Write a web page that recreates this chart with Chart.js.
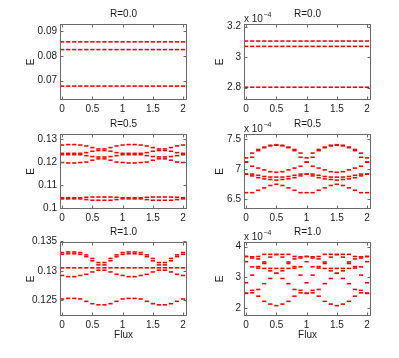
<!DOCTYPE html>
<html>
<head>
<meta charset="utf-8">
<script src="https://cdn.jsdelivr.net/npm/chart.js@4.4.1/dist/chart.umd.min.js"></script>
<style>
html, body { margin: 0; padding: 0; background: #fff; }
#wrap { position: relative; width: 399px; height: 358px; }
canvas { position: absolute; left: 0; top: 0; }
</style>
</head>
<body>
<div id="wrap">
  <canvas id="p1" width="399" height="358"></canvas>
  <canvas id="p2" width="399" height="358"></canvas>
  <canvas id="p3" width="399" height="358"></canvas>
  <canvas id="p4" width="399" height="358"></canvas>
  <canvas id="p5" width="399" height="358"></canvas>
  <canvas id="p6" width="399" height="358"></canvas>
</div>
<script>
// flux values (x) and tick labels
const flux = [0,0.1,0.2,0.3,0.4,0.5,0.6,0.7,0.8,0.9,1,1.1,1.2,1.3,1.4,1.5,1.6,1.7,1.8,1.9,2];
const fluxTicks = [0, 0.5, 1, 1.5, 2];

// R=0.0, left (E)
const r0a = [0.0856,0.0856,0.0856,0.0856,0.0856,0.0856,0.0856,0.0856,0.0856,0.0856,0.0856,0.0856,0.0856,0.0856,0.0856,0.0856,0.0856,0.0856,0.0856,0.0856,0.0856];
const r0b = [0.0825,0.0825,0.0825,0.0825,0.0825,0.0825,0.0825,0.0825,0.0825,0.0825,0.0825,0.0825,0.0825,0.0825,0.0825,0.0825,0.0825,0.0825,0.0825,0.0825,0.0825];
const r0c = [0.0678,0.0678,0.0678,0.0678,0.0678,0.0678,0.0678,0.0678,0.0678,0.0678,0.0678,0.0678,0.0678,0.0678,0.0678,0.0678,0.0678,0.0678,0.0678,0.0678,0.0678];

// R=0.0, right (E x 1e-4)
const s0a = [3.106,3.106,3.106,3.106,3.106,3.106,3.106,3.106,3.106,3.106,3.106,3.106,3.106,3.106,3.106,3.106,3.106,3.106,3.106,3.106,3.106];
const s0b = [3.071,3.071,3.071,3.071,3.071,3.071,3.071,3.071,3.071,3.071,3.071,3.071,3.071,3.071,3.071,3.071,3.071,3.071,3.071,3.071,3.071];
const s0c = [2.803,2.803,2.803,2.803,2.803,2.803,2.803,2.803,2.803,2.803,2.803,2.803,2.803,2.803,2.803,2.803,2.803,2.803,2.803,2.803,2.803];

// R=0.5, left
const r5a = [0.1275,0.1277,0.1277,0.1275,0.1271,0.1264,0.1258,0.1258,0.1264,0.1271,0.1275,0.1277,0.1277,0.1275,0.1271,0.1264,0.1258,0.1258,0.1264,0.1271,0.1275];
const r5b = [0.1239,0.1239,0.1239,0.1239,0.1242,0.1248,0.1251,0.1251,0.1248,0.1242,0.1239,0.1239,0.1239,0.1239,0.1242,0.1248,0.1251,0.1251,0.1248,0.1242,0.1239];
const r5c = [0.1233,0.1233,0.1233,0.1233,0.1229,0.1225,0.1223,0.1223,0.1225,0.1229,0.1233,0.1233,0.1233,0.1233,0.1229,0.1225,0.1223,0.1223,0.1225,0.1229,0.1233];
const r5d = [0.1199,0.1197,0.1197,0.1199,0.1201,0.1209,0.1215,0.1215,0.1209,0.1201,0.1199,0.1197,0.1197,0.1199,0.1201,0.1209,0.1215,0.1215,0.1209,0.1201,0.1199];
const r5e = [0.1046,0.1046,0.1046,0.1046,0.1048,0.1049,0.1049,0.1049,0.1049,0.1048,0.1046,0.1046,0.1046,0.1046,0.1048,0.1049,0.1049,0.1049,0.1049,0.1048,0.1046];
const r5f = [0.1041,0.1041,0.1041,0.1041,0.1038,0.1035,0.1035,0.1035,0.1035,0.1038,0.1041,0.1041,0.1041,0.1041,0.1038,0.1035,0.1035,0.1035,0.1035,0.1038,0.1041];

// R=0.5, right (x 1e-4)
const s5a = [7.19,7.27,7.33,7.37,7.40,7.41,7.40,7.37,7.33,7.27,7.19,7.27,7.33,7.37,7.40,7.41,7.40,7.37,7.33,7.27,7.19];
const s5b = [7.12,7.20,7.31,7.36,7.39,7.40,7.39,7.36,7.31,7.20,7.12,7.20,7.31,7.36,7.39,7.40,7.39,7.36,7.31,7.20,7.12];
const s5c = [7.12,7.05,7.02,6.99,6.96,6.95,6.96,6.99,7.02,7.05,7.12,7.05,7.02,6.99,6.96,6.95,6.96,6.99,7.02,7.05,7.12];
const s5d = [6.92,6.92,6.90,6.88,6.87,6.87,6.87,6.88,6.90,6.92,6.92,6.92,6.90,6.88,6.87,6.87,6.87,6.88,6.90,6.92,6.92];
const s5e = [6.92,6.89,6.86,6.84,6.83,6.82,6.83,6.84,6.86,6.89,6.92,6.89,6.86,6.84,6.83,6.82,6.83,6.84,6.86,6.89,6.92];
const s5f = [6.61,6.61,6.65,6.69,6.73,6.75,6.73,6.69,6.65,6.61,6.61,6.61,6.65,6.69,6.73,6.75,6.73,6.69,6.65,6.61,6.61];

// R=1.0, left
const r1a = [0.1331,0.1332,0.1332,0.1331,0.1327,0.1321,0.1314,0.1314,0.1321,0.1327,0.1331,0.1332,0.1332,0.1331,0.1327,0.1321,0.1314,0.1314,0.1321,0.1327,0.1331];
const r1b = [0.1328,0.1329,0.1329,0.1328,0.1324,0.1317,0.1310,0.1310,0.1317,0.1324,0.1328,0.1329,0.1329,0.1328,0.1324,0.1317,0.1310,0.1310,0.1317,0.1324,0.1328];
const r1c = [0.1305,0.1305,0.1305,0.1305,0.1305,0.1305,0.1305,0.1305,0.1305,0.1305,0.1305,0.1305,0.1305,0.1305,0.1305,0.1305,0.1305,0.1305,0.1305,0.1305,0.1305];
const r1d = [0.1292,0.1290,0.1290,0.1292,0.1294,0.1298,0.1301,0.1301,0.1298,0.1294,0.1292,0.1290,0.1290,0.1292,0.1294,0.1298,0.1301,0.1301,0.1298,0.1294,0.1292];
const r1e = [0.1252,0.1253,0.1253,0.1252,0.1248,0.1244,0.1242,0.1242,0.1244,0.1248,0.1252,0.1253,0.1253,0.1252,0.1248,0.1244,0.1242,0.1242,0.1244,0.1248,0.1252];

// R=1.0, right (x 1e-4)
const s1a = [3.68,3.67,3.68,3.75,3.75,3.75,3.75,3.75,3.68,3.67,3.68,3.67,3.68,3.75,3.75,3.75,3.75,3.75,3.68,3.67,3.68];
const s1b = [3.68,3.63,3.60,3.50,3.66,3.74,3.66,3.50,3.60,3.63,3.68,3.63,3.60,3.50,3.66,3.74,3.66,3.50,3.60,3.63,3.68];
const s1c = [3.51,3.34,3.35,3.45,3.29,3.29,3.29,3.45,3.35,3.34,3.51,3.34,3.35,3.45,3.29,3.29,3.29,3.45,3.35,3.34,3.51];
const s1d = [2.82,3.07,3.30,3.29,3.21,3.13,3.21,3.29,3.30,3.07,2.82,3.07,3.30,3.29,3.21,3.13,3.21,3.29,3.30,3.07,2.82];
const s1e = [2.48,2.57,2.60,2.79,2.96,3.13,2.96,2.79,2.60,2.57,2.48,2.57,2.60,2.79,2.96,3.13,2.96,2.79,2.60,2.57,2.48];
const s1f = [2.47,2.49,2.38,2.21,2.12,2.07,2.12,2.21,2.38,2.49,2.47,2.49,2.38,2.21,2.12,2.07,2.12,2.21,2.38,2.49,2.47];

// y tick labels per panel
const ticks1 = [0.07, 0.08, 0.09];
const ticks2 = [2.8, 3, 3.2];
const ticks3 = [0.1, 0.11, 0.12, 0.13];
const ticks4 = [6.5, 7, 7.5];
const ticks5 = [0.125, 0.13, 0.135];
const ticks6 = [2, 3, 4];

const FONT = 'Liberation Sans, Arial, Helvetica, sans-serif';
Chart.defaults.font.family = FONT;
Chart.defaults.font.size = 10;
Chart.defaults.color = '#1a1a1a';

const panels = [
  { id: 'p1', box: [60, 24, 187, 100], ymin: 0.0622, ymax: 0.0928, yt: ticks1, title: 'R=0.0', ex: 29, levels: [r0a, r0b, r0c] },
  { id: 'p2', box: [244, 24, 371, 100], ymin: 2.719, ymax: 3.218, yt: ticks2, title: 'R=0.0', ex: 24, exp: true, levels: [s0a, s0b, s0c] },
  { id: 'p3', box: [60, 134, 187, 209], ymin: 0.0997, ymax: 0.1323, yt: ticks3, title: 'R=0.5', ex: 29, levels: [r5a, r5b, r5c, r5d, r5e, r5f] },
  { id: 'p4', box: [244, 134, 371, 209], ymin: 6.338, ymax: 7.588, yt: ticks4, title: 'R=0.5', ex: 24, exp: true, levels: [s5a, s5b, s5c, s5d, s5e, s5f] },
  { id: 'p5', box: [60, 242, 187, 316], ymin: 0.1223, ymax: 0.1349, yt: ticks5, title: 'R=1.0', ex: 29, xlabel: true, levels: [r1a, r1b, r1c, r1d, r1e] },
  { id: 'p6', box: [244, 242, 371, 316], ymin: 1.73, ymax: 4.155, yt: ticks6, title: 'R=1.0', ex: 24, exp: true, xlabel: true, levels: [s1a, s1b, s1c, s1d, s1e, s1f] }
];

const tickText = v => String(+Number(v).toFixed(6));

const panelPlugin = {
  id: 'panel',
  afterDraw(chart, args, o) {
    const ctx = chart.ctx;
    const a = chart.chartArea;
    const xs = chart.scales.x, ys = chart.scales.y;
    const L = Math.round(a.left) + 0.5, R = Math.round(a.right) - 0.5;
    const T = Math.round(a.top) + 0.5, B = Math.round(a.bottom) - 0.5;
    ctx.save();
    ctx.strokeStyle = '#6a6a6a';
    ctx.lineWidth = 1;
    ctx.strokeRect(L, T, R - L, B - T);
    ctx.beginPath();
    o.xt.forEach(v => {
      const x = Math.round(xs.getPixelForValue(v)) + 0.5;
      ctx.moveTo(x, B); ctx.lineTo(x, B - 3);
      ctx.moveTo(x, T); ctx.lineTo(x, T + 3);
    });
    o.yt.forEach(v => {
      const y = Math.round(ys.getPixelForValue(v)) + 0.5;
      ctx.moveTo(L, y); ctx.lineTo(L + 3, y);
      ctx.moveTo(R, y); ctx.lineTo(R - 3, y);
    });
    ctx.stroke();

    ctx.fillStyle = '#1a1a1a';
    ctx.font = '10px ' + FONT;
    ctx.textAlign = 'center';
    ctx.textBaseline = 'middle';
    const cx = (a.left + a.right) / 2;
    ctx.fillText(o.title, cx, a.top - 10);
    if (o.xlabel) ctx.fillText('Flux', cx, a.bottom + 19.5);
    ctx.save();
    ctx.translate(a.left - o.ex, (a.top + a.bottom) / 2);
    ctx.rotate(-Math.PI / 2);
    ctx.fillText('E', 0, 0);
    ctx.restore();
    if (o.exp) {
      ctx.textAlign = 'left';
      ctx.textBaseline = 'alphabetic';
      ctx.fillText('x 10', a.left, a.top - 2);
      const w = ctx.measureText('x 10').width;
      ctx.font = '7px ' + FONT;
      ctx.fillText('\u22124', a.left + w + 0.5, a.top - 7);
    }
    ctx.restore();
  }
};

panels.forEach(p => {
  const [l, t, r, b] = p.box;
  const datasets = p.levels.map(lv => ({
    data: flux.map((f, i) => ({ x: f, y: lv[i] })),
    pointStyle: 'line',
    pointRadius: 2.1,
    pointBorderWidth: 1.6,
    pointBorderColor: '#ff0000',
    pointBackgroundColor: '#ff0000',
    showLine: false
  }));
  new Chart(document.getElementById(p.id), {
    type: 'scatter',
    data: { datasets },
    options: {
      responsive: false,
      animation: false,
      events: [],
      devicePixelRatio: 1,
      layout: { padding: { left: l - 40, top: t, right: 399 - r, bottom: 358 - b - 16 } },
      plugins: {
        legend: { display: false },
        tooltip: { enabled: false },
        panel: { title: p.title, ex: p.ex, exp: p.exp, xlabel: p.xlabel, xt: fluxTicks, yt: p.yt }
      },
      scales: {
        x: {
          type: 'linear', min: -0.035, max: 2.065,
          grid: { display: false, drawTicks: false },
          border: { display: false },
          ticks: { padding: 3, maxRotation: 0, callback: tickText },
          afterBuildTicks: s => { s.ticks = fluxTicks.map(v => ({ value: v })); },
          afterFit: s => { s.height = 16; }
        },
        y: {
          type: 'linear', min: p.ymin, max: p.ymax,
          grid: { display: false, drawTicks: false },
          border: { display: false },
          ticks: { padding: 3, callback: tickText },
          afterBuildTicks: s => { s.ticks = p.yt.map(v => ({ value: v })); },
          afterFit: s => { s.width = 40; }
        }
      }
    },
    plugins: [panelPlugin]
  });
});
</script>
</body>
</html>
